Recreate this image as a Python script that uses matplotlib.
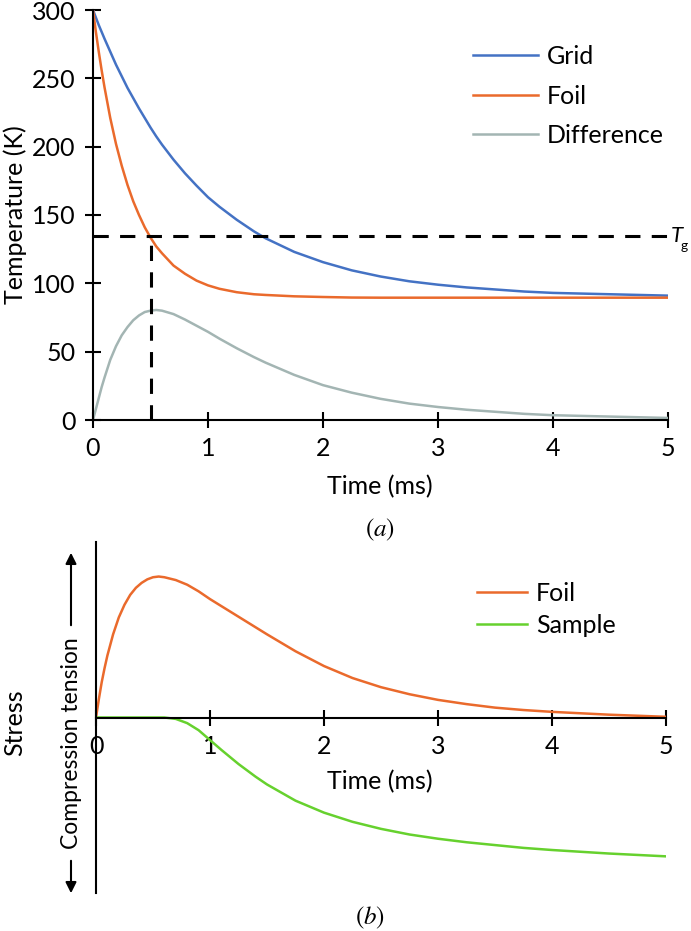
import matplotlib
matplotlib.use("Agg")
import matplotlib.pyplot as plt
from matplotlib.patches import FancyArrowPatch

plt.rcParams["font.family"] = ["Lato", "DejaVu Sans"]
plt.rcParams["mathtext.fontset"] = "stix"

# (a) temperatures (K)
time_a = [0, 0.025, 0.05, 0.075, 0.1, 0.15, 0.2, 0.25, 0.3, 0.35, 0.4, 0.45, 0.5, 0.55,
          0.6, 0.7, 0.8, 0.9, 1.0, 1.1, 1.25, 1.4, 1.5, 1.75, 2.0, 2.25, 2.5, 2.75,
          3.0, 3.25, 3.5, 3.75, 4.0, 4.5, 5.0]
grid_temp = [300, 294.5, 289, 284, 279, 269.5, 260, 251.5, 243, 235.5, 228, 221, 214, 207.5,
             201.5, 190.5, 180.5, 171.5, 163, 156, 146.5, 138, 133, 123, 115.5, 109.5, 105, 101.5,
             99, 97, 95.5, 94, 93, 92, 91]
foil_temp = [300, 284, 269.5, 256, 243.5, 221, 202, 186, 172, 160, 150, 141, 133.5, 127,
             122, 113, 107, 102, 98.5, 96, 93.5, 92, 91.5, 90.5, 90, 89.6, 89.5, 89.5,
             89.5, 89.5, 89.5, 89.5, 89.5, 89.5, 89.5]
diff_temp = [0, 8, 16, 24, 31, 44, 54, 62, 68, 73, 76.5, 79, 80, 80.5,
             80, 77.5, 73.5, 69, 64.5, 59.5, 52.5, 46, 42, 33, 25.5, 20, 15.5, 12,
             9.5, 7.5, 6, 4.5, 3.5, 2.5, 1.5]
tg_temp = 135
tg_time = 0.5
temp_ticks = [0, 50, 100, 150, 200, 250, 300]
time_ticks = [0, 1, 2, 3, 4, 5]

# (b) stress, arbitrary units (peak of foil = 1)
time_b = time_a
foil_stress = [0, 0.13, 0.25, 0.35, 0.44, 0.59, 0.71, 0.80, 0.87, 0.92, 0.955, 0.98, 0.995, 1.0,
               0.995, 0.975, 0.942, 0.895, 0.84, 0.79, 0.715, 0.64, 0.59, 0.47, 0.365, 0.28, 0.215, 0.165,
               0.125, 0.095, 0.07, 0.053, 0.04, 0.02, 0.005]
sample_stress = [0, 0, 0, 0, 0, 0, 0, 0, 0, 0, 0, 0, 0, 0,
                 0, -0.01, -0.04, -0.09, -0.16, -0.23, -0.33, -0.42, -0.475, -0.59, -0.675, -0.74, -0.79, -0.83,
                 -0.86, -0.885, -0.905, -0.925, -0.94, -0.965, -0.985]

BLUE = "#4472c4"
ORANGE = "#ea6a2c"
GREY = "#a3b5b3"
GREEN = "#66d12e"

W, H = 691, 931
FS = 18


def fx(px):
    return px / W


def fy(py):
    return 1 - py / H


fig = plt.figure(figsize=(W / 100, H / 100), dpi=100)

# ---- panel (a)
ax = fig.add_axes([fx(93), fy(420), fx(668) - fx(93), fy(10) - fy(420)])
ax.plot(time_a, grid_temp, color=BLUE, lw=1.8, label="Grid")
ax.plot(time_a, foil_temp, color=ORANGE, lw=1.8, label="Foil")
ax.plot(time_a, diff_temp, color=GREY, lw=1.8, label="Difference")
ax.plot([0, 5], [tg_temp, tg_temp], color="black", lw=2.2, dashes=(5, 3.7))
ax.plot([tg_time, tg_time], [0, tg_temp], color="black", lw=2.2, dashes=(5, 3.7))
ax.set_xlim(0, 5)
ax.set_ylim(0, 300)
ax.set_xticks(time_ticks)
ax.set_yticks(temp_ticks)
ax.spines[["top", "right"]].set_visible(False)
ax.spines[["left", "bottom"]].set_linewidth(1.5)
ax.tick_params(direction="inout", length=11, width=1.5, labelsize=FS)
ax.tick_params(axis="y", pad=7)
ax.tick_params(axis="x", pad=7)
ax.text(5.02, tg_temp, "T", style="italic", fontsize=16, va="center", ha="left", clip_on=False)
ax.text(5.112, tg_temp - 8, "g", fontsize=10, va="center", ha="left", clip_on=False)
ax.legend(loc="upper left", bbox_to_anchor=(fx(473), fy(45)), bbox_transform=fig.transFigure,
          frameon=False, handlelength=2.6, handletextpad=0.36, labelspacing=0.66,
          borderpad=0, borderaxespad=0, fontsize=FS)

fig.text(fx(15), fy(215), "Temperature (K)", rotation=90, ha="center", va="center", fontsize=FS)
fig.text(fx(380), fy(487), "Time (ms)", ha="center", va="center", fontsize=FS)
fig.text(fx(380), fy(530), r"$(\mathit{a})$", ha="center", va="center", fontsize=FS)

# ---- panel (b)
bx = fig.add_axes([fx(96), fy(893), fx(666) - fx(96), fy(542) - fy(893)])
bx.plot(time_b, foil_stress, color=ORANGE, lw=1.8, label="Foil")
bx.plot(time_b, sample_stress, color=GREEN, lw=1.8, label="Sample")
bx.set_xlim(0, 5)
bx.set_ylim(-1.245, 1.245)
bx.set_xticks(time_ticks)
bx.set_yticks([])
bx.spines[["top", "right"]].set_visible(False)
bx.spines["bottom"].set_position(("data", 0))
bx.spines[["left", "bottom"]].set_linewidth(1.5)
bx.tick_params(axis="x", direction="inout", length=11, width=1.5, labelsize=FS, pad=7)
bx.legend(loc="upper left", bbox_to_anchor=(fx(477), fy(582)), bbox_transform=fig.transFigure,
          frameon=False, handlelength=2.0, handletextpad=0.36, labelspacing=0.36,
          borderpad=0, borderaxespad=0, fontsize=FS)

fig.text(fx(15), fy(723), "Stress", rotation=90, ha="center", va="center", fontsize=FS)
fig.text(fx(71), fy(743), "Compression tension", rotation=90, ha="center", va="center", fontsize=16.5)
arrow = dict(arrowstyle="-|>", lw=1.5, color="black", mutation_scale=16)
fig.add_artist(FancyArrowPatch((fx(71), fy(628)), (fx(71), fy(550)),
                               transform=fig.transFigure, **arrow))
fig.add_artist(FancyArrowPatch((fx(71), fy(858)), (fx(71), fy(896)),
                               transform=fig.transFigure, **arrow))
fig.text(fx(380), fy(782), "Time (ms)", ha="center", va="center", fontsize=FS)
fig.text(fx(370), fy(918), r"$(\mathit{b})$", ha="center", va="center", fontsize=FS)

fig.savefig("out.png", dpi=100, facecolor="white")
